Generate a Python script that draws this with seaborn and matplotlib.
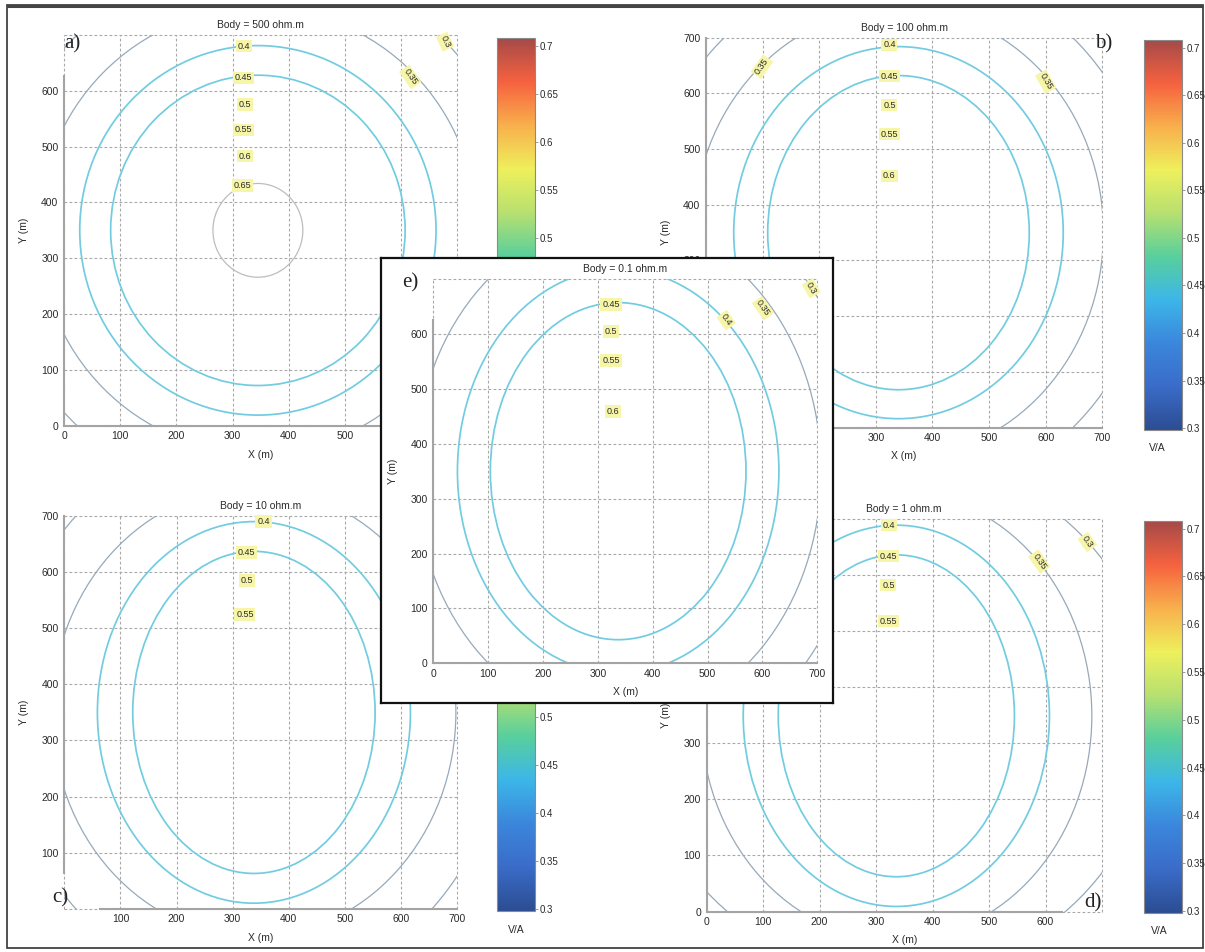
"""Apparent-resistivity style contour panels (a-e) with an inset panel e."""

import matplotlib

matplotlib.use("Agg")

import matplotlib.pyplot as plt
import seaborn as sns
from matplotlib.cm import ScalarMappable
from matplotlib.colors import Normalize
from matplotlib.patches import Ellipse, Rectangle

# ---------------------------------------------------------------- data ----
# Closed contours of each panel: level (V/A) and semi-axes (m) around a centre.
LEVELS_A = [0.30, 0.35, 0.40, 0.45, 0.65]
RX_A = [470, 390, 317, 262, 80]
RY_A = [480, 399, 331, 278, 84]
CENTER_A = (345, 350)

LEVELS_B = [0.30, 0.35, 0.40, 0.45]
RX_B = [450, 362, 291, 231]
RY_B = [480, 404, 334, 282]
CENTER_B = (340, 350)

LEVELS_C = [0.30, 0.35, 0.40, 0.45]
RX_C = [448, 360, 279, 216]
RY_C = [496, 400, 340, 287]
CENTER_C = (338, 350)

LEVELS_D = [0.30, 0.35, 0.40, 0.45]
RX_D = [458, 346, 271, 209]
RY_D = [461, 400, 340, 287]
CENTER_D = (336, 349)

LEVELS_E = [0.30, 0.35, 0.40, 0.45]
RX_E = [449, 370, 293, 233]
RY_E = [539, 455, 368, 307]
CENTER_E = (337, 350)

# Contour labels as printed on each panel (text, x, y in metres, rotation).
LABELS_A = ["0.4", "0.45", "0.5", "0.55", "0.6", "0.65", "0.35", "0.3"]
LABEL_X_A = [320, 320, 322, 320, 322, 318, 616, 678]
LABEL_Y_A = [680, 623, 576, 530, 483, 430, 625, 688]
LABEL_ROT_A = [0, 0, 0, 0, 0, 0, -55, -65]

LABELS_B = ["0.4", "0.45", "0.5", "0.55", "0.6", "0.35", "0.35"]
LABEL_X_B = [324, 324, 324, 324, 324, 99, 600]
LABEL_Y_B = [687, 631, 579, 527, 452, 648, 621]
LABEL_ROT_B = [0, 0, 0, 0, 0, 55, -60]

LABELS_C = ["0.4", "0.45", "0.5", "0.55"]
LABEL_X_C = [355, 325, 325, 322]
LABEL_Y_C = [690, 635, 585, 524]
LABEL_ROT_C = [0, 0, 0, 0]

LABELS_D = ["0.4", "0.45", "0.5", "0.55", "0.35", "0.3"]
LABEL_X_D = [323, 322, 322, 322, 589, 674]
LABEL_Y_D = [689, 634, 582, 518, 624, 659]
LABEL_ROT_D = [0, 0, 0, 0, -55, -55]

LABELS_E = ["0.45", "0.5", "0.55", "0.6", "0.4", "0.35", "0.3"]
LABEL_X_E = [324, 324, 324, 328, 534, 601, 689]
LABEL_Y_E = [653, 604, 552, 459, 625, 647, 683]
LABEL_ROT_E = [0, 0, 0, 0, -55, -55, -60]

TICKS = [0, 100, 200, 300, 400, 500, 600, 700]
CBAR_TICKS = [0.3, 0.35, 0.4, 0.45, 0.5, 0.55, 0.6, 0.65, 0.7]
CBAR_RANGE = (0.298, 0.708)

# --------------------------------------------------------------- style ----
W, H = 1205, 952
sns.set_theme(style="white")
plt.rcParams["font.family"] = ["Liberation Sans", "DejaVu Sans"]

LINE_COLOR = {0.30: "#97a9b9", 0.35: "#97a9b9", 0.40: "#72cce0", 0.45: "#72cce0", 0.65: "#bdbdbd"}
LINE_WIDTH = {0.30: 0.9, 0.35: 0.9, 0.40: 1.25, 0.45: 1.25, 0.65: 0.9}
LABEL_BG = "#f6f5a8"
GRID_COLOR = "#a8a8a8"
SPINE_COLOR = "#a4a4a4"
TEXT_COLOR = "#2a2a2a"
# Washed-out jet-like map of the scanned colour bars.
CMAP = sns.blend_palette(
    ["#2c4d93", "#3a6cc8", "#3b86dc", "#3cb6e8", "#58cf9c", "#b6e070",
     "#eef05c", "#f8b04c", "#f6623f", "#a64a48"],
    as_cmap=True,
)


def px_rect(x0, x1, y_top, y_bot):
    """Convert a pixel box (y measured from the top) to a figure rect."""
    return [x0 / W, 1 - y_bot / H, (x1 - x0) / W, (y_bot - y_top) / H]


def draw_panel(fig, rect, title, levels, rx, ry, center, labels, lx, ly, lrot,
               xshow, yshow, left_span, bottom_span, zorder=1):
    ax = fig.add_axes(rect, zorder=zorder)
    ax.set_facecolor("none")
    ax.set_xlim(0, 700)
    ax.set_ylim(0, 700)
    ax.set_xticks(TICKS)
    ax.set_yticks(TICKS)
    ax.set_xticklabels([str(t) if t in xshow else "" for t in TICKS])
    ax.set_yticklabels([str(t) if t in yshow else "" for t in TICKS])
    ax.tick_params(length=0, pad=4, labelsize=7.5, labelcolor=TEXT_COLOR)
    ax.grid(True, color=GRID_COLOR, linestyle=(0, (2.5, 2)), linewidth=0.8)
    for line in ax.get_xgridlines() + ax.get_ygridlines():
        line.set_clip_on(False)

    for lev, a, b in zip(levels, rx, ry):
        ax.add_patch(Ellipse(center, 2 * a, 2 * b, fill=False,
                             edgecolor=LINE_COLOR[lev], linewidth=LINE_WIDTH[lev]))
    for text, x, y, rot in zip(labels, lx, ly, lrot):
        ax.text(x, y, text, rotation=rot, ha="center", va="center", fontsize=6.5,
                color=TEXT_COLOR, zorder=4,
                bbox=dict(boxstyle="square,pad=0.2", fc=LABEL_BG, ec="none"))

    ax.set_title(title, fontsize=7.5, pad=5, color=TEXT_COLOR)
    ax.set_xlabel("X (m)", fontsize=7.5, labelpad=6, color=TEXT_COLOR)
    ax.set_ylabel("Y (m)", fontsize=7.5, labelpad=9, color=TEXT_COLOR)
    sns.despine(ax=ax)
    for side, span in (("left", left_span), ("bottom", bottom_span)):
        ax.spines[side].set_color(SPINE_COLOR)
        ax.spines[side].set_linewidth(1.5)
        ax.spines[side].set_bounds(*span)
    return ax


def draw_colorbar(fig, rect, shown, unit_xy=None):
    """Colour bar; only the tick labels in `shown` are printed (the rest sit under panel e)."""
    cax = fig.add_axes(rect)
    sm = ScalarMappable(norm=Normalize(*CBAR_RANGE), cmap=CMAP)
    cb = fig.colorbar(sm, cax=cax)
    cb.set_ticks(CBAR_TICKS)
    cb.set_ticklabels([f"{t:g}" if t in shown else "" for t in CBAR_TICKS])
    cb.outline.set_edgecolor("#8a8a8a")
    cb.outline.set_linewidth(0.8)
    cax.tick_params(length=2, width=0.6, pad=1, labelsize=7, colors="#8a8a8a",
                    labelcolor=TEXT_COLOR)
    if unit_xy is not None:
        fig.text(unit_xy[0] / W, 1 - unit_xy[1] / H, "V/A", fontsize=7.5,
                 ha="center", va="center", color=TEXT_COLOR)


def letter(fig, x, y, text, zorder=1):
    fig.text(x / W, 1 - y / H, text, fontsize=15, ha="center", va="center",
             family=["Liberation Serif", "DejaVu Serif"], color="#222222", zorder=zorder)


fig = plt.figure(figsize=(W / 100, H / 100), dpi=100)
fig.patch.set_facecolor("white")

# a) Body = 500 ohm.m
draw_panel(fig, px_rect(64, 457.4, 35, 425.7), "Body = 500 ohm.m",
           LEVELS_A, RX_A, RY_A, CENTER_A,
           LABELS_A, LABEL_X_A, LABEL_Y_A, LABEL_ROT_A,
           xshow=TICKS[:6], yshow=TICKS[:7], left_span=(0, 626), bottom_span=(0, 700))
draw_colorbar(fig, px_rect(497, 535, 38, 432), shown=CBAR_TICKS[4:])
letter(fig, 72, 44, "a)")

# b) Body = 100 ohm.m
draw_panel(fig, px_rect(706, 1102.3, 37.7, 427.6), "Body = 100 ohm.m",
           LEVELS_B, RX_B, RY_B, CENTER_B,
           LABELS_B, LABEL_X_B, LABEL_Y_B, LABEL_ROT_B,
           xshow=TICKS[3:], yshow=TICKS[3:], left_span=(0, 700), bottom_span=(0, 700))
draw_colorbar(fig, px_rect(1144, 1182, 40, 430), shown=CBAR_TICKS, unit_xy=(1157, 448))
letter(fig, 1104, 44, "b)")

# c) Body = 10 ohm.m
draw_panel(fig, px_rect(64.3, 457, 516, 908.8), "Body = 10 ohm.m",
           LEVELS_C, RX_C, RY_C, CENTER_C,
           LABELS_C, LABEL_X_C, LABEL_Y_C, LABEL_ROT_C,
           xshow=TICKS[1:], yshow=TICKS[1:], left_span=(64, 700), bottom_span=(64, 700))
draw_colorbar(fig, px_rect(497, 535, 518, 911), shown=CBAR_TICKS[:5], unit_xy=(516, 930))
letter(fig, 60, 898, "c)")

# d) Body = 1 ohm.m
draw_panel(fig, px_rect(706.5, 1102, 519, 911.5), "Body = 1 ohm.m",
           LEVELS_D, RX_D, RY_D, CENTER_D,
           LABELS_D, LABEL_X_D, LABEL_Y_D, LABEL_ROT_D,
           xshow=TICKS[:7], yshow=TICKS[:4], left_span=(0, 700), bottom_span=(0, 630))
draw_colorbar(fig, px_rect(1144, 1182, 521, 913), shown=CBAR_TICKS, unit_xy=(1159, 931))
letter(fig, 1093, 903, "d)")

# e) Body = 0.1 ohm.m, pasted on top in a framed white box
box = fig.add_axes(px_rect(381, 833, 258, 703), zorder=5)
box.set_xticks([])
box.set_yticks([])
box.set_facecolor("white")
for spine in box.spines.values():
    spine.set_visible(True)
    spine.set_color("#111111")
    spine.set_linewidth(1.6)
draw_panel(fig, px_rect(433.3, 817.3, 279, 663.3), "Body = 0.1 ohm.m",
           LEVELS_E, RX_E, RY_E, CENTER_E,
           LABELS_E, LABEL_X_E, LABEL_Y_E, LABEL_ROT_E,
           xshow=TICKS, yshow=TICKS[:7], left_span=(0, 625), bottom_span=(0, 700),
           zorder=6)
letter(fig, 410, 283, "e)", zorder=7)

# Outer frame of the scanned figure.
fig.patches.append(Rectangle((7 / W, 1 - 948 / H), (1203 - 7) / W, (948 - 5) / H,
                             transform=fig.transFigure, fill=False,
                             edgecolor="#333333", linewidth=1.2, zorder=0))
fig.patches.append(Rectangle((7 / W, 1 - 6 / H), (1203 - 7) / W, 0,
                             transform=fig.transFigure, fill=False,
                             edgecolor="#444444", linewidth=2.2, zorder=0))

fig.savefig("out.png", dpi=100)
